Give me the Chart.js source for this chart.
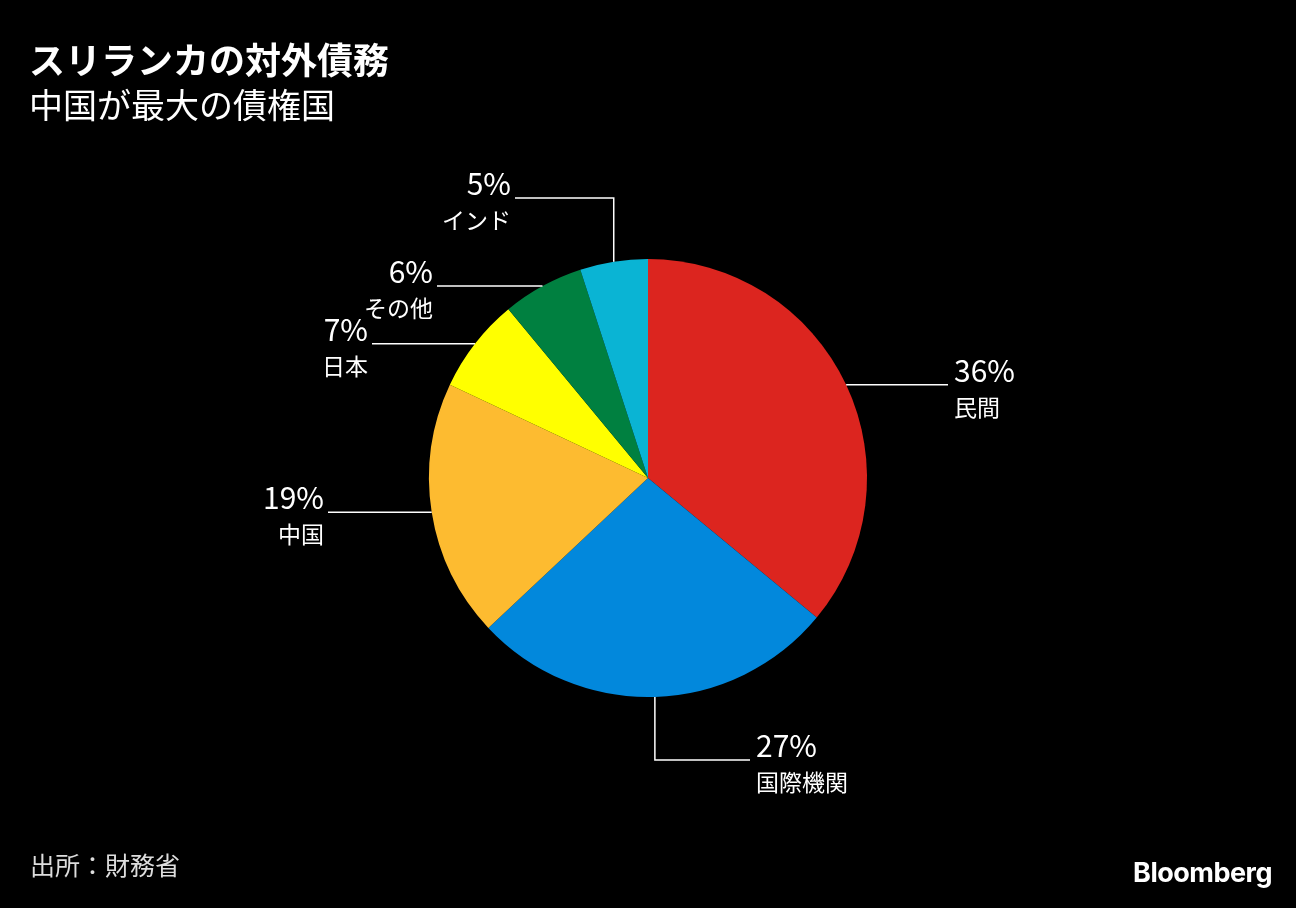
<!DOCTYPE html>
<html><head><meta charset="utf-8">
<script src="https://cdn.jsdelivr.net/npm/chart.js@4/dist/chart.umd.min.js"></script>
<style>
html,body{margin:0;background:#000;width:1296px;height:908px;overflow:hidden;font-family:"Noto Sans CJK JP","Noto Sans",sans-serif;color:#fff}
#t{position:absolute;left:29px;top:37px;font-size:36px;font-weight:bold;line-height:1.2}
#s{position:absolute;left:29px;top:84px;font-size:34px;line-height:1.2}
#src{position:absolute;left:30px;top:849px;font-size:25px;color:#ddd;line-height:1.2}
#bb{position:absolute;right:24px;top:856px;font-size:27px;font-weight:bold;font-family:"Inter",sans-serif;letter-spacing:-0.5px}
canvas{position:absolute;left:0;top:0}
</style></head><body>
<canvas id="c" width="1296" height="908"></canvas>
<div id="t">スリランカの対外債務</div>
<div id="s">中国が最大の債権国</div>
<div id="src">出所：財務省</div>
<div id="bb">Bloomberg</div>
<script>
const categories=["民間","国際機関","中国","日本","その他","インド"];
const values=[36,27,19,7,6,5];
const colors=["#dc251f","#0288dc","#fdbb30","#ffff00","#008040","#0ab4d4"];
const leaders=[["h",948],["vh",760,750],["h",328],["h",372],["h",437],["vh",198,515]];
const labelPlugin={id:"lbl",afterDraw(ch){
 const ctx=ch.ctx;const arcs=ch.getDatasetMeta(0).data;
 ctx.save();ctx.strokeStyle="#fff";ctx.lineWidth=1.5;ctx.fillStyle="#fff";
 arcs.forEach((a,i)=>{
  const m=(a.startAngle+a.endAngle)/2;
  const x0=a.x+Math.cos(m)*a.outerRadius, y0=a.y+Math.sin(m)*a.outerRadius;
  const L=leaders[i];let ex,ey;ctx.beginPath();ctx.moveTo(x0,y0);
  if(L[0]==="h"){ex=L[1];ey=y0;ctx.lineTo(ex,ey);}
  else{ctx.lineTo(x0,L[1]);ex=L[2];ey=L[1];ctx.lineTo(ex,ey);}
  ctx.stroke();
  const right=ex>x0;
  ctx.textAlign=right?"left":"right";
  const tx=right?ex+6:ex-4;
  ctx.textBaseline="alphabetic";
  ctx.font='30px "Noto Sans CJK JP"';ctx.fillText(values[i]+"%",tx,ey-3);
  ctx.font='23px "Noto Sans CJK JP"';ctx.fillText(categories[i],tx,ey+31);
 });ctx.restore();}};
new Chart(document.getElementById("c"),{type:"pie",
 data:{labels:categories,datasets:[{data:values,backgroundColor:colors,borderWidth:0}]},
 options:{responsive:false,animation:false,layout:{padding:{top:259,bottom:211,left:429,right:429}},
  plugins:{legend:{display:false},tooltip:{enabled:false}}},
 plugins:[labelPlugin]});
</script></body></html>
